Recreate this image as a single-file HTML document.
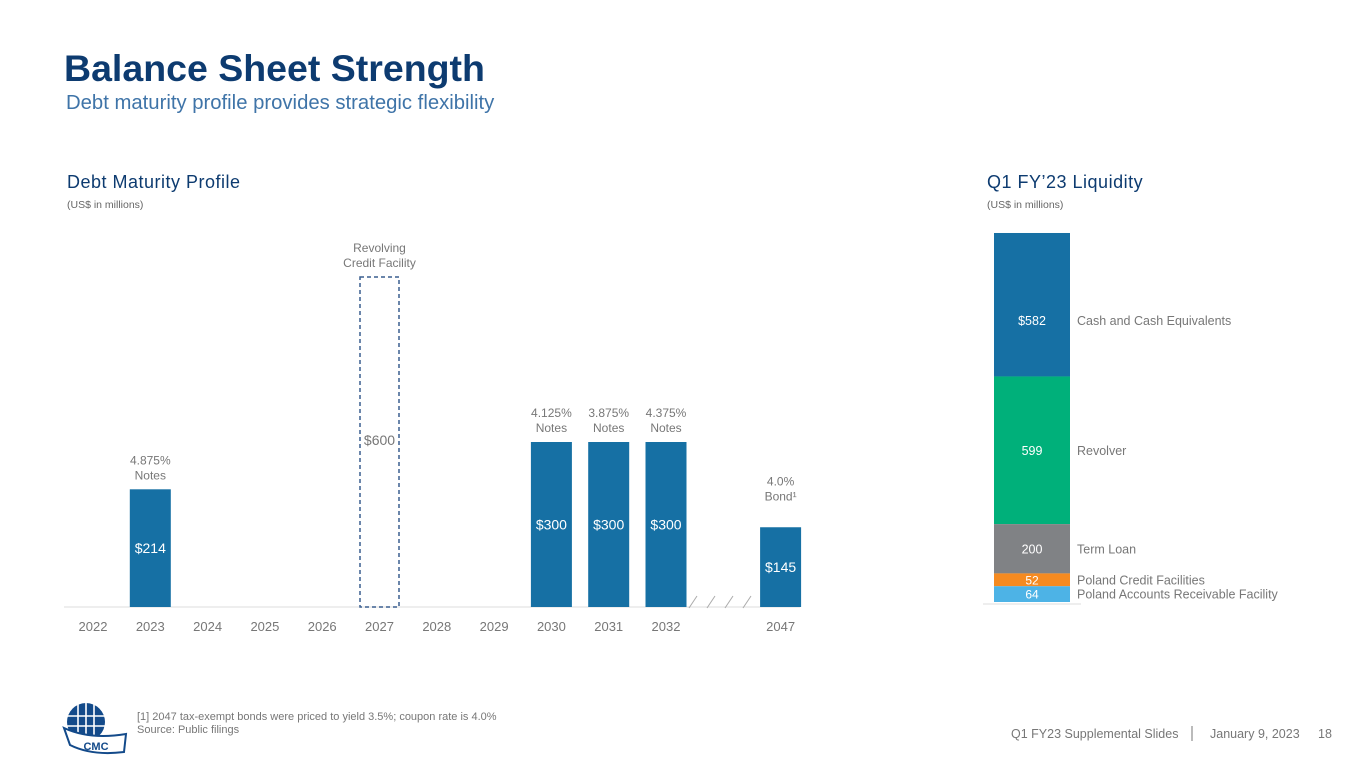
<!DOCTYPE html>
<html><head><meta charset="utf-8"><style>
body{margin:0;background:#fff;font-family:"Liberation Sans",sans-serif;}
svg{display:block}
</style></head><body>
<svg id="s" width="1365" height="768" viewBox="0 0 1365 768" xmlns="http://www.w3.org/2000/svg" font-family="Liberation Sans, sans-serif">
<text x="64" y="81" font-size="37.5" font-weight="bold" fill="#0d3b70">Balance Sheet Strength</text>
<text x="66" y="109" font-size="20.3" fill="#3f74a8">Debt maturity profile provides strategic flexibility</text>
<text x="67" y="188" font-size="18" fill="#0d3b70" letter-spacing="0.5">Debt Maturity Profile</text>
<text x="67" y="208" font-size="10.5" fill="#666">(US$ in millions)</text>
<text x="987" y="188" font-size="18" fill="#0d3b70" letter-spacing="0.5">Q1 FY’23 Liquidity</text>
<text x="987" y="208" font-size="10.5" fill="#666">(US$ in millions)</text>
<g id="debt"></g>
<g id="liq"></g>
<g>
<circle cx="86" cy="722" r="19" fill="#134a8a"/>
<g stroke="#fff" stroke-width="1.6"><line x1="67" y1="716" x2="105" y2="716"/><line x1="67" y1="726" x2="105" y2="726"/><line x1="78" y1="703" x2="78" y2="741"/><line x1="86" y1="703" x2="86" y2="741"/><line x1="94" y1="703" x2="94" y2="741"/></g>
<path d="M64 728 Q90 740 126 734 L124 752 Q92 756 70 745 Z" fill="#fff" stroke="#134a8a" stroke-width="2"/>
<text x="96" y="750" font-size="11" font-weight="bold" fill="#134a8a" text-anchor="middle">CMC</text>
</g>
<text x="137" y="720" font-size="11" fill="#777">[1] 2047 tax-exempt bonds were priced to yield 3.5%; coupon rate is 4.0%</text>
<text x="137" y="733" font-size="11" fill="#777">Source: Public filings</text>
<text x="1011" y="738" font-size="12.5" fill="#777">Q1 FY23 Supplemental Slides</text>
<line x1="1192" y1="726" x2="1192" y2="741" stroke="#777" stroke-width="1"/>
<text x="1210" y="738" font-size="12.5" fill="#777">January 9, 2023</text>
<text x="1318" y="738" font-size="12.5" fill="#777">18</text>
</svg>
<script>
const years=["2022","2023","2024","2025","2026","2027","2028","2029","2030","2031","2032","","2047"];
const debtValues=[0,214,0,0,0,600,0,0,300,300,300,0,145];
const debtLabels=["","$214","","","","$600","","","$300","$300","$300","","$145"];
const noteLabels=[[],["4.875%","Notes"],[],[],[],["Revolving","Credit Facility"],[],[],["4.125%","Notes"],["3.875%","Notes"],["4.375%","Notes"],[],["4.0%","Bond¹"]];
const dashedIndex=5;
const liqValues=[582,599,200,52,64];
const liqLabels=["$582","599","200","52","64"];
const liqNames=["Cash and Cash Equivalents","Revolver","Term Loan","Poland Credit Facilities","Poland Accounts Receivable Facility"];
const liqColors=["#1670a4","#00b07a","#808285","#f58a20","#4db3e6"];
const NS="http://www.w3.org/2000/svg";
function mk(p,t,a,txt){const e=document.createElementNS(NS,t);for(const k in a)e.setAttribute(k,a[k]);if(txt!==undefined)e.textContent=txt;p.appendChild(e);return e;}
const debt=document.getElementById('debt');
const base=607,x0=93,step=57.3,bw=41,k=0.55;
const xS=i=>x0+i*step, yS=v=>base-v*k;
const ax=mk(debt,'line',{x1:64,y1:base,x2:800,y2:base,stroke:'#ddd','stroke-width':1});


years.forEach((y,i)=>{
 const cx=xS(i),v=debtValues[i];
 if(y){const t=mk(debt,'text',{x:cx,y:631,'font-size':13,fill:'#777','text-anchor':'middle'},y);
 
 }
 if(v>0){
  let r;
  if(i===dashedIndex){r=mk(debt,'rect',{x:cx-bw/2+1,y:yS(v),width:bw-2,height:v*k,fill:'none',stroke:'#3a5f8f','stroke-width':1.5,'stroke-dasharray':'4,3'});}
  else r=mk(debt,'rect',{x:cx-bw/2,y:yS(v),width:bw,height:v*k,fill:'#1670a4'});
  
  
  const lt=i===dashedIndex?yS(v)+168:yS(v)+v*k/2+5;
  const l=mk(debt,'text',{x:cx,y:lt,'font-size':14,fill:i===dashedIndex?'#777':'#fff','text-anchor':'middle'},debtLabels[i]);
  
  
  const nl=noteLabels[i];
  const off=i===dashedIndex?-25:(i===12?-42:-25);
  nl.forEach((s,j)=>{const n=mk(debt,'text',{x:cx,y:yS(v)+off+j*15,'font-size':12,fill:'#777','text-anchor':'middle'},s);
   
   });
 }
});
for(let j=0;j<4;j++){const s=mk(debt,'line',{x1:689+j*18,y1:608,x2:697+j*18,y2:596,stroke:'#aaa','stroke-width':1});
 
 }
const liq=document.getElementById('liq');
const lb=602,lk=0.2465,lx=994,lw=76;
const tot=liqValues.reduce((a,b)=>a+b,0);
let segTop=lb-tot*lk;
liqValues.forEach((v,i)=>{
 const h=v*lk;
 const r=mk(liq,'rect',{x:lx,y:segTop,width:lw,height:h,fill:liqColors[i]});
 
 
 const small=h<20;
 const cy=segTop+h/2+4.5+(i===0?16:0);
 const t=mk(liq,'text',{x:lx+lw/2,y:cy,'font-size':small?12:12.5,fill:'#fff','text-anchor':'middle'},liqLabels[i]);
 
 
 const n=mk(liq,'text',{x:1077,y:cy,'font-size':12.5,fill:'#777'},liqNames[i]);
 
 
 segTop+=h;
});
const bl=mk(liq,'line',{x1:983,y1:604,x2:1081,y2:604,stroke:'#ddd','stroke-width':1});


</script>
</body></html>
